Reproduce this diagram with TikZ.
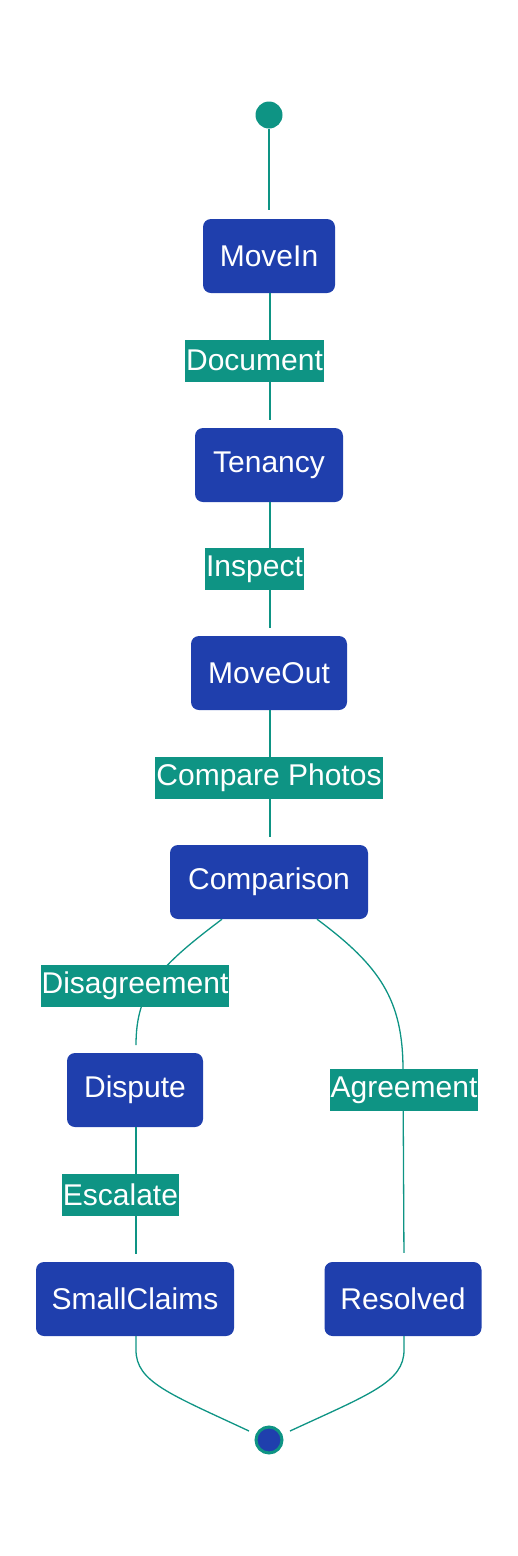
\documentclass[tikz,border=0pt]{standalone}
\usepackage{fontspec}
\setmainfont{Liberation Sans}
\definecolor{nodeblue}{HTML}{1F3FAD}
\definecolor{tealc}{HTML}{0E9484}
\tikzset{
  statebox/.style={draw=none, fill=nodeblue, rounded corners=8pt, text=white, minimum height=74pt, font=\fontsize{30}{36}\selectfont, inner sep=0pt},
  elabel/.style={fill=tealc, text=white, minimum height=42pt, inner xsep=1pt, inner ysep=0pt, font=\fontsize{30}{36}\selectfont},
  edge/.style={draw=tealc, line width=1.3pt},
}
\begin{document}
\begin{tikzpicture}[x=1pt,y=-1pt]
\useasboundingbox (0,0) rectangle (518,1556);
\node[circle, fill=tealc, minimum size=27pt, inner sep=0pt] (start) at (269,115) {};
\node[statebox, minimum width=132pt] (movein) at (269,256) {MoveIn};
\node[statebox, minimum width=148pt] (tenancy) at (269,465) {Tenancy};
\node[statebox, minimum width=156pt] (moveout) at (269,673) {MoveOut};
\node[statebox, minimum width=198pt] (cmp) at (269,882) {Comparison};
\node[statebox, minimum width=136pt] (dispute) at (135,1090) {Dispute};
\node[statebox, minimum width=198pt] (small) at (135,1299) {SmallClaims};
\node[statebox, minimum width=157pt] (resolved) at (403,1299) {Resolved};
\node[circle, fill=nodeblue, draw=tealc, line width=3pt, minimum size=26pt, inner sep=0pt] (end) at (269,1440) {};

\coordinate (c1) at (136,1045);
\coordinate (c2) at (403,1070);

\draw[edge, shorten >=9pt] (start) -- (movein);
\draw[edge, shorten >=8pt] (movein.south -| 270,0) -- (tenancy.north -| 270,0);
\draw[edge, shorten >=8pt] (tenancy.south -| 270,0) -- (moveout.north -| 270,0);
\draw[edge, shorten >=8pt] (moveout.south -| 270,0) -- (cmp.north -| 270,0);
\draw[edge] ([xshift=-47pt]cmp.south) .. controls (160,966) and (136,990) .. (c1);
\draw[edge] ([xshift=48pt]cmp.south) .. controls (380,966) and (403,1000) .. (c2);
\draw[edge, shorten >=9pt] (c2) -- (resolved.north -| 404,0);
\draw[edge, shorten >=8pt] (dispute.south -| 136,0) -- (small.north -| 136,0);
\draw[edge] (small.south -| 136,0) -- (136,1350) .. controls (136,1382) and (170,1394) .. ([xshift=-20pt,yshift=9pt]end.center);
\draw[edge] (resolved.south -| 404,0) -- (404,1350) .. controls (404,1382) and (370,1394) .. ([xshift=21pt,yshift=9pt]end.center);

\node[elabel] (lDocument) at (254.5,360.5) {Document};
\node[elabel] (lInspect) at (254.5,569) {Inspect};
\node[elabel] (lCompare) at (269,778) {Compare Photos};
\node[elabel] (lDisagree) at (135,986) {Disagreement};
\node[elabel] (lAgree) at (404,1090) {Agreement};
\node[elabel] (lEscalate) at (120.5,1195) {Escalate};
\end{tikzpicture}
\end{document}
